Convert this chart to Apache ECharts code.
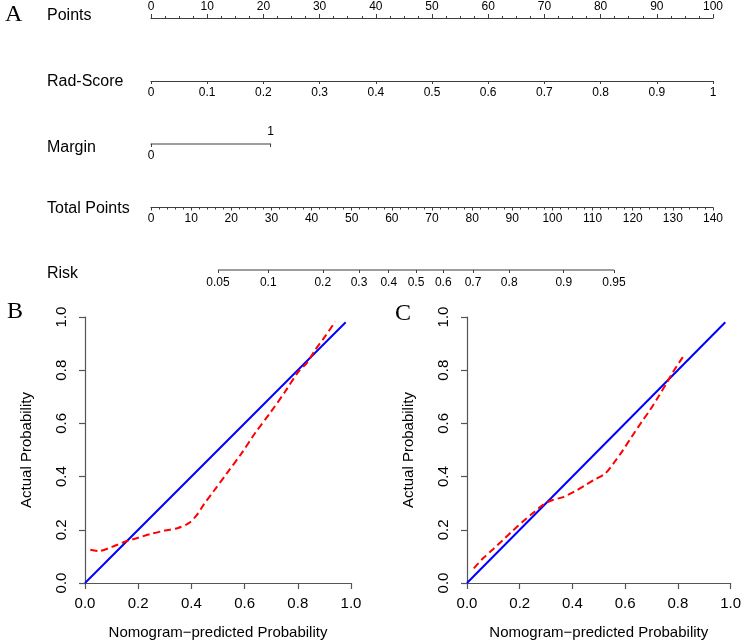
<!DOCTYPE html>
<html>
<head>
<meta charset="utf-8">
<script src="https://cdn.jsdelivr.net/npm/echarts@6/dist/echarts.min.js"></script>
<style>html,body{margin:0;padding:0;background:#fff}#c{width:744px;height:643px}</style>
</head>
<body>
<div id="c"></div>
<script>
// ---------- Data ----------
const rowLabels = ['Points', 'Rad-Score', 'Margin', 'Total Points', 'Risk'];
const pointsRange = [0, 100];
const radScoreRange = [0, 1];
const marginLevels = ['0', '1'];
const marginPointsForLevel1 = 21.3;
const totalPointsRange = [0, 140];
const riskTicks = [0.05, 0.1, 0.2, 0.3, 0.4, 0.5, 0.6, 0.7, 0.8, 0.9, 0.95];
const riskLogitAtZeroPoints = -3.941;
const riskLogitPerPoint = 0.0597;

const idealLine = [[0, 0], [0.98, 0.98]];
const calibB = [[0.02,0.125],[0.05,0.12],[0.1,0.135],[0.15,0.155],[0.2,0.17],[0.25,0.185],[0.3,0.197],[0.35,0.207],[0.39,0.225],[0.42,0.255],[0.445,0.293],[0.482,0.343],[0.533,0.412],[0.589,0.488],[0.639,0.563],[0.695,0.638],[0.752,0.719],[0.802,0.794],[0.833,0.826],[0.865,0.876],[0.902,0.926],[0.94,0.982]];
const calibC = [[0.026,0.055],[0.061,0.093],[0.099,0.127],[0.137,0.162],[0.174,0.197],[0.212,0.231],[0.249,0.262],[0.287,0.293],[0.325,0.312],[0.362,0.322],[0.406,0.343],[0.445,0.365],[0.481,0.387],[0.525,0.412],[0.556,0.45],[0.588,0.494],[0.625,0.55],[0.663,0.606],[0.694,0.65],[0.726,0.7],[0.757,0.751],[0.782,0.794],[0.82,0.851]];

// ---------- Helpers ----------
const logit = p => Math.log(p / (1 - p));
const riskTickLogits = riskTicks.map(logit);
const FONT = 'Liberation Sans, Arial, sans-serif';
const axisColor = '#3c3c3c';

function nomoGrid(lineY, pos) {
  return pos === 'top'
    ? { left: 151, width: 562, top: lineY, height: 10 }
    : { left: 151, width: 562, top: lineY - 10, height: 10 };
}
const baseAxisLine = { show: true, onZero: false, lineStyle: { color: axisColor, width: 1.2 } };
const lbl = (m) => ({ color: '#000', fontSize: 12, fontFamily: FONT, margin: m });

const grids = [
  nomoGrid(18, 'top'),
  nomoGrid(81, 'bottom'),
  nomoGrid(144, 'bottom'),
  nomoGrid(207.5, 'bottom'),
  nomoGrid(270, 'bottom'),
  { left: 85, top: 317, width: 266, height: 266 },
  { left: 467, top: 317, width: 266, height: 266 }
];

const xAxes = [
  { gridIndex: 0, type: 'value', position: 'top', min: pointsRange[0], max: pointsRange[1], interval: 10,
    axisLine: baseAxisLine, axisTick: { length: 4, lineStyle: { color: axisColor } },
    minorTick: { show: true, splitNumber: 4, length: 2, lineStyle: { color: axisColor } },
    axisLabel: lbl(5), splitLine: { show: false } },
  { gridIndex: 1, type: 'value', position: 'bottom', min: radScoreRange[0], max: radScoreRange[1], interval: 0.1,
    axisLine: baseAxisLine, axisTick: { length: 3, lineStyle: { color: axisColor } },
    axisLabel: lbl(6), splitLine: { show: false } },
  { gridIndex: 2, type: 'value', position: 'bottom', min: 0, max: pointsRange[1] / marginPointsForLevel1,
    axisLine: { show: false, onZero: false }, axisTick: { show: true, length: 3, customValues: [0, 1], lineStyle: { color: axisColor } },
    axisLabel: { show: false }, splitLine: { show: false } },
  { gridIndex: 3, type: 'value', position: 'bottom', min: totalPointsRange[0], max: totalPointsRange[1], interval: 10,
    axisLine: baseAxisLine, axisTick: { length: 3, lineStyle: { color: axisColor } },
    minorTick: { show: true, splitNumber: 5, length: 2, lineStyle: { color: axisColor } },
    axisLabel: lbl(5.5), splitLine: { show: false } },
  { gridIndex: 4, type: 'value', position: 'bottom',
    min: riskLogitAtZeroPoints, max: riskLogitAtZeroPoints + riskLogitPerPoint * totalPointsRange[1],
    axisLine: { show: false, onZero: false },
    axisTick: { show: true, length: 3, customValues: riskTickLogits, lineStyle: { color: axisColor } },
    axisLabel: Object.assign(lbl(6.5), { customValues: riskTickLogits, formatter: v => {
      let best = 0, d = Infinity;
      riskTickLogits.forEach((l, i) => { if (Math.abs(l - v) < d) { d = Math.abs(l - v); best = i; } });
      return String(riskTicks[best]);
    } }),
    splitLine: { show: false } }
];
const yAxes = [0, 1, 2, 3, 4].map(i => ({ gridIndex: i, type: 'value', min: 0, max: 1, show: false }));

function calibAxes(gi) {
  xAxes.push({
    gridIndex: gi, type: 'value', min: 0, max: 1, interval: 0.2,
    axisLine: { show: true, onZero: false, lineStyle: { color: '#555', width: 1.2 } },
    axisTick: { show: true, length: 6, lineStyle: { color: '#555', width: 1.2 } },
    axisLabel: { color: '#000', fontSize: 15, fontFamily: FONT, margin: 13, formatter: v => v.toFixed(1) },
    splitLine: { show: false },
    name: 'Nomogram\u2212predicted Probability', nameLocation: 'middle', nameGap: 42,
    nameTextStyle: { color: '#000', fontSize: 15, fontFamily: FONT }
  });
  yAxes.push({
    gridIndex: gi, type: 'value', min: 0, max: 1, interval: 0.2,
    axisLine: { show: true, onZero: false, lineStyle: { color: '#555', width: 1.2 } },
    axisTick: { show: true, length: 6, lineStyle: { color: '#555', width: 1.2 } },
    axisLabel: { color: '#000', fontSize: 15, fontFamily: FONT, margin: 16, rotate: 90, formatter: v => v.toFixed(1) },
    splitLine: { show: false },
    name: 'Actual Probability', nameLocation: 'middle', nameGap: 51,
    nameTextStyle: { color: '#000', fontSize: 15, fontFamily: FONT }
  });
}
calibAxes(5);
calibAxes(6);

const series = [
  { type: 'line', xAxisIndex: 2, yAxisIndex: 2, clip: false, symbol: 'circle', symbolSize: 1,
    itemStyle: { color: axisColor }, lineStyle: { color: axisColor, width: 1.2 },
    label: { show: true, color: '#000', fontSize: 12, fontFamily: FONT, distance: 5.5,
      formatter: p => marginLevels[p.dataIndex] },
    data: marginLevels.map((lv, i) => ({ value: [i, 0], label: { position: i === 0 ? 'bottom' : 'top' } })) },
  { type: 'line', xAxisIndex: 4, yAxisIndex: 4, clip: false, symbol: 'none',
    lineStyle: { color: axisColor, width: 1.2 },
    data: [[logit(riskTicks[0]), 0], [logit(riskTicks[riskTicks.length - 1]), 0]] },
  { type: 'line', xAxisIndex: 5, yAxisIndex: 5, symbol: 'none', clip: false,
    lineStyle: { color: '#0000ff', width: 2 }, data: idealLine },
  { type: 'line', xAxisIndex: 5, yAxisIndex: 5, symbol: 'none', clip: false, smooth: 0.3,
    lineStyle: { color: '#ff0000', width: 2, type: [7, 4] }, data: calibB },
  { type: 'line', xAxisIndex: 6, yAxisIndex: 6, symbol: 'none', clip: false,
    lineStyle: { color: '#0000ff', width: 2 }, data: idealLine },
  { type: 'line', xAxisIndex: 6, yAxisIndex: 6, symbol: 'none', clip: false, smooth: 0.3,
    lineStyle: { color: '#ff0000', width: 2, type: [7, 4] }, data: calibC }
];

const rowY = [16, 82, 148, 209, 274];
const graphic = rowLabels.map((t, i) => ({
  type: 'text', x: 47, y: rowY[i],
  style: { text: t, fill: '#000', font: '16px ' + FONT, verticalAlign: 'middle', textVerticalAlign: 'middle' }
})).concat([
  { text: 'A', x: 5, y: 14.5 }, { text: 'B', x: 7, y: 312 }, { text: 'C', x: 395, y: 313.5 }
].map(o => ({
  type: 'text', x: o.x, y: o.y,
  style: { text: o.text, fill: '#000', font: '24px Liberation Serif, Times New Roman, serif', verticalAlign: 'middle', textVerticalAlign: 'middle' }
})));

const chart = echarts.init(document.getElementById('c'));
chart.setOption({
  animation: false,
  backgroundColor: '#fff',
  grid: grids,
  xAxis: xAxes,
  yAxis: yAxes,
  series: series,
  graphic: graphic
});
</script>
</body>
</html>
